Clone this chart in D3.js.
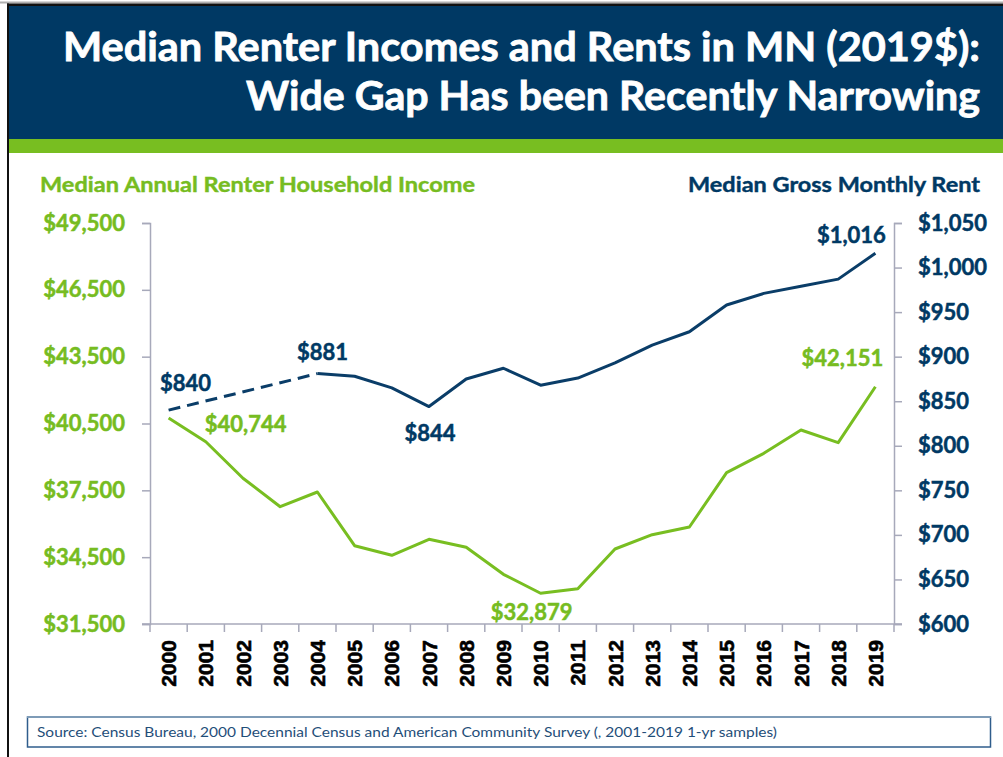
<!DOCTYPE html>
<html>
<head>
<meta charset="utf-8">
<script src="https://cdn.jsdelivr.net/npm/d3@7"></script>
<style>
  html, body { margin: 0; padding: 0; background: #fff; }
  svg { display: block; }
</style>
</head>
<body>
<svg id="chart" width="1003" height="757"></svg>
<script>
// ---- Data ----
const years = ["2000","2001","2002","2003","2004","2005","2006","2007","2008","2009",
               "2010","2011","2012","2013","2014","2015","2016","2017","2018","2019"];
const income = [40744, 39683, 38040, 36766, 37425, 35015, 34584, 35302, 34943, 33731,
                32879, 33085, 34867, 35509, 35854, 38292, 39162, 40209, 39639, 42151];
const rent = [840, null, null, null, 881, 878, 865, 844, 875, 887,
              868, 876, 893, 913, 928, 958, 971, 979, 987, 1016];
const incomeTicks = [31500, 34500, 37500, 40500, 43500, 46500, 49500];
const rentTicks = [600, 650, 700, 750, 800, 850, 900, 950, 1000, 1050];
const rentLabelYears = ["2000", "2004", "2007", "2019"];
const incomeLabelYears = ["2000", "2010", "2019"];

const titleLines = ["Median Renter Incomes and Rents in MN (2019$):",
                    "Wide Gap Has been Recently Narrowing"];
const leftAxisTitle = "Median Annual Renter Household Income";
const rightAxisTitle = "Median Gross Monthly Rent";
const sourceText = "Source:  Census Bureau, 2000 Decennial Census and American Community Survey (, 2001-2019 1-yr samples)";

// ---- Styles ----
const NAVY = "#003964";
const LINE_NAVY = "#0A3D68";
const GREEN = "#78BE21";
const GREEN_TEXT = "#76BC21";
const AXIS = "#A7A9BA";
const FONT = "Lato, 'Open Sans', sans-serif";

const svg = d3.select("#chart");

// Frame / banner
svg.append("rect").attr("x", 0).attr("y", 1.5).attr("width", 1003).attr("height", 2).attr("fill", "#b0b0b0");
svg.append("rect").attr("x", 7).attr("y", 3.5).attr("width", 996).attr("height", 2.5).attr("fill", "#111");
svg.append("rect").attr("x", 7).attr("y", 3.5).attr("width", 2).attr("height", 754).attr("fill", "#111");
svg.append("rect").attr("x", 9).attr("y", 6).attr("width", 994).attr("height", 133).attr("fill", NAVY);
svg.append("rect").attr("x", 9).attr("y", 139).attr("width", 994).attr("height", 14).attr("fill", GREEN);

// Title
const titleSpec = [{ x0: 63, x1: 980, base: 61 }, { x0: 246, x1: 980, base: 110 }];
titleLines.forEach((t, i) => {
  svg.append("text")
    .attr("x", titleSpec[i].x1).attr("y", titleSpec[i].base)
    .attr("text-anchor", "end")
    .attr("font-family", FONT).attr("font-weight", "bold").attr("font-size", 40)
    .attr("fill", "#fff").attr("stroke", "#fff").attr("stroke-width", 0.8)
    .attr("textLength", titleSpec[i].x1 - titleSpec[i].x0)
    .attr("lengthAdjust", "spacingAndGlyphs")
    .text(t);
});

// Axis titles
svg.append("text").attr("x", 40).attr("y", 192)
  .attr("font-family", FONT).attr("font-weight", "bold").attr("font-size", 20)
  .attr("fill", GREEN_TEXT).attr("stroke", GREEN_TEXT).attr("stroke-width", 0.4)
  .attr("textLength", 435).attr("lengthAdjust", "spacingAndGlyphs")
  .text(leftAxisTitle);
svg.append("text").attr("x", 980).attr("y", 192).attr("text-anchor", "end")
  .attr("font-family", FONT).attr("font-weight", "bold").attr("font-size", 20)
  .attr("fill", NAVY).attr("stroke", NAVY).attr("stroke-width", 0.4)
  .attr("textLength", 292).attr("lengthAdjust", "spacingAndGlyphs")
  .text(rightAxisTitle);

// ---- Scales ----
const x = d3.scaleBand().domain(years).range([150, 894]).paddingInner(0).paddingOuter(0);
const cx = d => x(d) + x.bandwidth() / 2;
const yInc = d3.scaleLinear().domain([31500, 49500]).range([624, 223]);
const yRent = d3.scaleLinear().domain([600, 1050]).range([624, 223]);
const money = d => "$" + d3.format(",")(d);

// Left axis
const gL = svg.append("g").attr("transform", "translate(150,0)")
  .call(d3.axisLeft(yInc).tickValues(incomeTicks).tickSize(8).tickPadding(17).tickFormat(money));
gL.select(".domain").attr("stroke", AXIS).attr("stroke-width", 1.5);
gL.selectAll(".tick line").attr("stroke", AXIS).attr("stroke-width", 1.5);
gL.selectAll(".tick text").attr("font-family", FONT).attr("font-weight", "bold")
  .attr("font-size", 22).attr("fill", GREEN_TEXT)
  .attr("stroke", GREEN_TEXT).attr("stroke-width", 0.5);

// Right axis
const gR = svg.append("g").attr("transform", "translate(894,0)")
  .call(d3.axisRight(yRent).tickValues(rentTicks).tickSize(8).tickPadding(16).tickFormat(money));
gR.select(".domain").attr("stroke", AXIS).attr("stroke-width", 1.5);
gR.selectAll(".tick line").attr("stroke", AXIS).attr("stroke-width", 1.5);
gR.selectAll(".tick text").attr("font-family", FONT).attr("font-weight", "bold")
  .attr("font-size", 22).attr("fill", NAVY)
  .attr("stroke", NAVY).attr("stroke-width", 0.5);

// Bottom axis
const gB = svg.append("g").attr("transform", "translate(0,624)");
gB.append("line").attr("x1", 142).attr("x2", 902).attr("y1", 0).attr("y2", 0)
  .attr("stroke", AXIS).attr("stroke-width", 1.5);
const bounds = years.map(d => x(d)).concat([x.range()[1]]);
gB.selectAll("line.tk").data(bounds).join("line").attr("class", "tk")
  .attr("x1", d => d).attr("x2", d => d).attr("y1", 0).attr("y2", 8)
  .attr("stroke", AXIS).attr("stroke-width", 1.5);
gB.selectAll("text.yr").data(years).join("text").attr("class", "yr")
  .attr("transform", d => `translate(${cx(d)},16) rotate(-90)`)
  .attr("text-anchor", "end").attr("dy", "0.36em")
  .attr("font-family", "'Liberation Sans', Arial, sans-serif").attr("font-weight", "bold")
  .attr("font-size", 21).attr("fill", "#000").attr("stroke", "#000").attr("stroke-width", 0.6)
  .text(d => d);

// ---- Lines ----
const incLine = d3.line().x((d, i) => cx(years[i])).y(d => yInc(d));
svg.append("path").datum(income).attr("d", incLine)
  .attr("fill", "none").attr("stroke", GREEN).attr("stroke-width", 3).attr("stroke-linejoin", "round");

const rentPts = rent.map((v, i) => ({ year: years[i], v })).filter(d => d.v !== null);
const rentLine = d3.line().x(d => cx(d.year)).y(d => yRent(d.v));
const dashedPts = rentPts.filter(d => +d.year <= 2004);
const solidPts = rentPts.filter(d => +d.year >= 2004);
svg.append("path").datum(dashedPts).attr("d", rentLine)
  .attr("fill", "none").attr("stroke", LINE_NAVY).attr("stroke-width", 3)
  .attr("stroke-dasharray", "12,7");
svg.append("path").datum(solidPts).attr("d", rentLine)
  .attr("fill", "none").attr("stroke", LINE_NAVY).attr("stroke-width", 3).attr("stroke-linejoin", "round");

// ---- Data labels ----
const rentOffsets = { "2000": [17, -19], "2004": [5, -14], "2007": [1, 34], "2019": [-24, -10] };
const incOffsets = { "2000": [77, 14], "2010": [-9, 27], "2019": [-33, -21] };
rentLabelYears.forEach(yr => {
  const v = rent[years.indexOf(yr)];
  const o = rentOffsets[yr];
  svg.append("text").attr("x", cx(yr) + o[0]).attr("y", yRent(v) + o[1])
    .attr("text-anchor", "middle")
    .attr("font-family", FONT).attr("font-weight", "bold").attr("font-size", 22)
    .attr("fill", NAVY).attr("stroke", NAVY).attr("stroke-width", 0.5).text(money(v));
});
incomeLabelYears.forEach(yr => {
  const v = income[years.indexOf(yr)];
  const o = incOffsets[yr];
  svg.append("text").attr("x", cx(yr) + o[0]).attr("y", yInc(v) + o[1])
    .attr("text-anchor", "middle")
    .attr("font-family", FONT).attr("font-weight", "bold").attr("font-size", 22)
    .attr("fill", GREEN_TEXT).attr("stroke", GREEN_TEXT).attr("stroke-width", 0.5).text(money(v));
});

// ---- Source box ----
svg.append("rect").attr("x", 27.5).attr("y", 717).attr("width", 963).attr("height", 30)
  .attr("fill", "#fff").attr("stroke", "#2F5D8C").attr("stroke-width", 1.5);
svg.append("line").attr("x1", 27).attr("x2", 991).attr("y1", 717).attr("y2", 717)
  .attr("stroke", "#7E9BB7").attr("stroke-width", 2);
svg.append("text").attr("x", 37).attr("y", 737)
  .attr("font-family", FONT).attr("font-size", 13).attr("fill", "#1F4E79")
  .attr("textLength", 740).attr("lengthAdjust", "spacingAndGlyphs")
  .text(sourceText);
</script>
</body>
</html>
